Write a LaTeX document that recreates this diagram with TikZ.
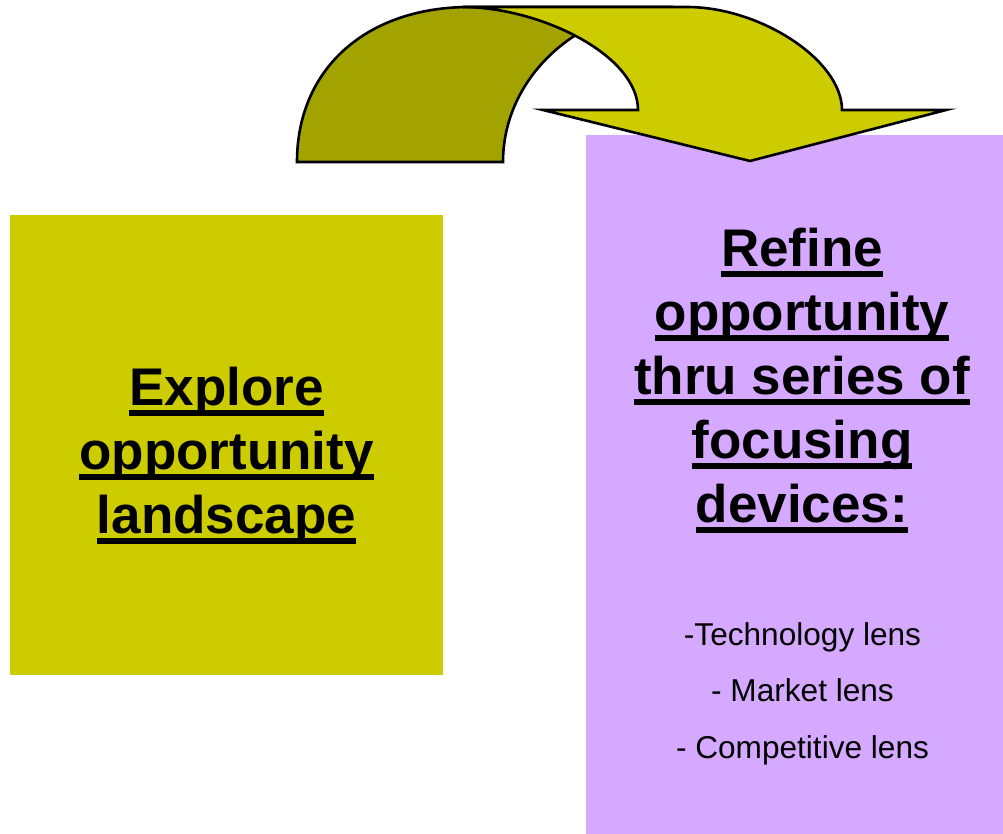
\documentclass[tikz,border=0pt]{standalone}
\usepackage{fontspec}
\setmainfont{Liberation Sans}
\definecolor{leafolive}{HTML}{CCCC00}
\definecolor{shadeolive}{HTML}{A3A300}
\definecolor{lavendbox}{HTML}{D5A9FF}
% underline set just below the baseline, running through descenders
\newcommand{\ulline}[1]{\setbox0=\hbox{#1}\rlap{\rule[-0.2em]{\wd0}{0.1em}}\box0}
\begin{document}
\begin{tikzpicture}[x=1pt,y=-1pt,
  panel/.style={draw=none,inner sep=0pt,outer sep=0pt},
  title/.style={font=\bfseries\fontsize{53}{64}\selectfont,align=center,inner sep=0pt,anchor=base},
  listtext/.style={font=\fontsize{31.6}{56.5}\selectfont,align=center,inner sep=0pt,anchor=base},
  arrowpart/.style={draw=black,line width=2.6pt,line join=miter}]
\useasboundingbox (0,0) rectangle (1003,834);

% the two stage boxes
\node[panel,fill=leafolive,minimum width=433pt,minimum height=460pt] (explore) at (226.5,445) {};
\node[panel,fill=lavendbox,minimum width=417pt,minimum height=699pt] (refine) at (794.5,484.5) {};

% curved arrow: shaded back part
\draw[arrowpart,fill=shadeolive]
  (297,162) .. controls (297,69) and (366,7) .. (470,7)
  -- (673,7)
  .. controls (579,7) and (503,77) .. (503,162) -- cycle;
% curved arrow: front part with the head
\draw[arrowpart,fill=leafolive]
  (462,7) -- (687,7)
  .. controls (760,7) and (842,60) .. (842,110)
  -- (946,110) -- (750,161) -- (543,110) -- (638,110)
  .. controls (638,55) and (540,7) .. (462,7) -- cycle;

% texts (anchored at the baseline of their last line)
\node[title] (exploretxt) at (226.5,533)
  {\ulline{Explore}\\\ulline{opportunity}\\\ulline{landscape}};
\node[title] (refinetxt) at (802,522)
  {\ulline{Refine}\\\ulline{opportunity}\\\ulline{thru series of}\\\ulline{focusing}\\\ulline{devices:}};
\node[listtext] (lenses) at (802.5,758)
  {-Technology lens\\- Market lens\\- Competitive lens};
\end{tikzpicture}
\end{document}
